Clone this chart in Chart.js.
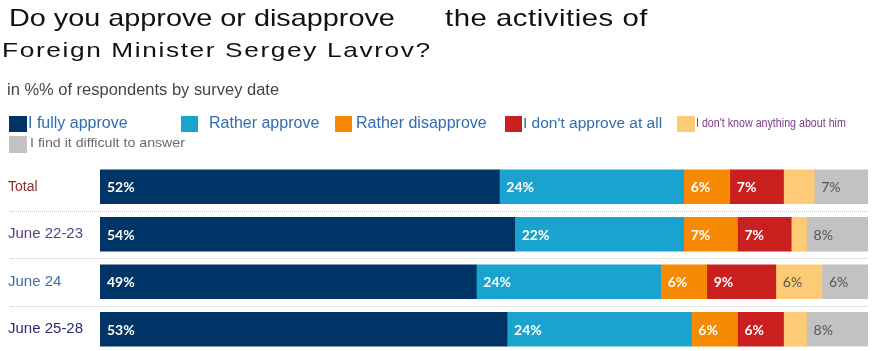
<!DOCTYPE html>
<html>
<head>
<meta charset="utf-8">
<script src="https://cdn.jsdelivr.net/npm/chart.js@4/dist/chart.umd.min.js"></script>
<style>
  html, body { margin: 0; padding: 0; background: #fff; width: 875px; height: 351px; overflow: hidden; }
  #wrap { position: relative; width: 875px; height: 351px; overflow: hidden; }
  canvas { position: absolute; left: 0; top: 0; }
  .t { position: absolute; white-space: nowrap; font-family: "Liberation Sans", Arial, sans-serif; transform-origin: 0 0; }
  .sq { position: absolute; }
</style>
</head>
<body>
<div id="wrap">
  <canvas id="c" width="875" height="373"></canvas>
  <div class="t" style="left:9px;top:6px;font-size:24px;line-height:24px;color:#111;transform:scaleX(1.2);">Do you approve or disapprove</div>
  <div class="t" style="left:445px;top:6px;font-size:24px;line-height:24px;color:#111;letter-spacing:0.45px;transform:scaleX(1.22);">the activities of</div>
  <div class="t" style="left:2px;top:39px;font-size:21px;line-height:21px;color:#111;letter-spacing:1.3px;transform:scaleX(1.25);">Foreign Minister Sergey Lavrov?</div>
  <div class="t" style="left:7px;top:82px;font-size:16px;line-height:16px;color:#444;transform:scaleX(1.03);">in %% of respondents by survey date</div>

  <div class="sq" style="left:9px;top:116px;width:18px;height:16px;background:#003466;"></div>
  <div class="t" style="left:28px;top:115px;font-size:16px;line-height:16px;color:#2f6cb3;">I fully approve</div>

  <div class="sq" style="left:181px;top:116px;width:17px;height:16px;background:#1aa3cf;"></div>
  <div class="t" style="left:209px;top:115px;font-size:16px;line-height:16px;color:#2f6cb3;">Rather approve</div>

  <div class="sq" style="left:335px;top:116px;width:17px;height:16px;background:#f68a02;"></div>
  <div class="t" style="left:356px;top:115px;font-size:16px;line-height:16px;color:#2f6cb3;">Rather disapprove</div>

  <div class="sq" style="left:505px;top:116px;width:17px;height:16px;background:#c91f1f;"></div>
  <div class="t" style="left:523px;top:115px;font-size:15.5px;line-height:16px;color:#2f6cb3;">I don't approve at all</div>

  <div class="sq" style="left:677px;top:116px;width:18px;height:16px;background:#fdca76;"></div>
  <div class="t" style="left:696px;top:117px;font-size:12px;line-height:12px;color:#7a3c8a;transform:scaleX(0.89);">I don't know anything about him</div>

  <div class="sq" style="left:9px;top:136px;width:18px;height:17px;background:#c2c2c2;"></div>
  <div class="t" style="left:30px;top:136px;font-size:13.5px;line-height:14px;color:#6a6a6a;transform:scaleX(1.05);">I find it difficult to answer</div>
</div>
<script>
const categories = ['Total', 'June 22-23', 'June 24', 'June 25-28'];
const fullyApprove = [52, 54, 49, 53];
const ratherApprove = [24, 22, 24, 24];
const ratherDisapprove = [6, 7, 6, 6];
const dontApproveAtAll = [7, 7, 9, 6];
const dontKnow = [4, 2, 6, 3];
const difficultToAnswer = [7, 8, 6, 8];

const seriesNames = ['I fully approve', 'Rather approve', 'Rather disapprove', "I don't approve at all", "I don't know anything about him", 'I find it difficult to answer'];
const seriesColors = ['#003466', '#1aa3cf', '#f68a02', '#c91f1f', '#fdca76', '#c2c2c2'];
const labelColors = ['#ffffff', '#ffffff', '#ffffff', '#ffffff', '#555555', '#555555'];
const tickColors = ['#8b2e2e', '#5a3e85', '#3f6fa8', '#2a2a70'];
const seriesValues = [fullyApprove, ratherApprove, ratherDisapprove, dontApproveAtAll, dontKnow, difficultToAnswer];

const separators = {
  id: 'separators',
  beforeDatasetsDraw(chart) {
    const ctx = chart.ctx, y = chart.scales.y, area = chart.chartArea;
    ctx.save();
    ctx.strokeStyle = '#c4c4c4';
    ctx.lineWidth = 1;
    ctx.setLineDash([1, 1]);
    for (let i = 0; i < categories.length - 1; i++) {
      const yy = Math.round((y.getPixelForValue(i) + y.getPixelForValue(i + 1)) / 2) + 0.5;
      ctx.beginPath();
      ctx.moveTo(10, yy);
      ctx.lineTo(area.right, yy);
      ctx.stroke();
    }
    ctx.restore();
  }
};

const valueLabels = {
  id: 'valueLabels',
  afterDatasetsDraw(chart) {
    const ctx = chart.ctx;
    ctx.save();
    ctx.textBaseline = 'middle';
    ctx.textAlign = 'left';
    chart.data.datasets.forEach((ds, di) => {
      const meta = chart.getDatasetMeta(di);
      meta.data.forEach((bar, i) => {
        const v = ds.data[i];
        if (v < 5) return;
        ctx.fillStyle = labelColors[di];
        ctx.font = (di < 4 ? 'bold ' : '') + '14px Lato, "Open Sans", sans-serif';
        ctx.fillText(v + '%', Math.min(bar.base, bar.x) + 7, bar.y + 1);
      });
    });
    ctx.restore();
  }
};

new Chart(document.getElementById('c'), {
  type: 'bar',
  data: {
    labels: categories,
    datasets: seriesValues.map((vals, i) => ({
      label: seriesNames[i],
      data: vals,
      backgroundColor: seriesColors[i],
      borderWidth: 0,
      barThickness: 34
    }))
  },
  options: {
    indexAxis: 'y',
    responsive: false,
    animation: false,
    layout: { padding: { left: 8, right: 7, top: 163, bottom: 20 } },
    plugins: { legend: { display: false }, tooltip: { enabled: false }, title: { display: false } },
    scales: {
      x: { stacked: true, min: 0, max: 100, display: false },
      y: {
        stacked: true,
        grid: { display: false },
        border: { display: false },
        afterFit(scale) { scale.width = 92; },
        ticks: {
          crossAlign: 'far',
          padding: 0,
          color: (c) => tickColors[c.index],
          font: (c) => ({ family: "Arial, 'Liberation Sans', sans-serif", size: c.index === 0 ? 14 : 15, weight: 'normal', style: 'normal' })
        }
      }
    }
  },
  plugins: [separators, valueLabels]
});
</script>
</body>
</html>
